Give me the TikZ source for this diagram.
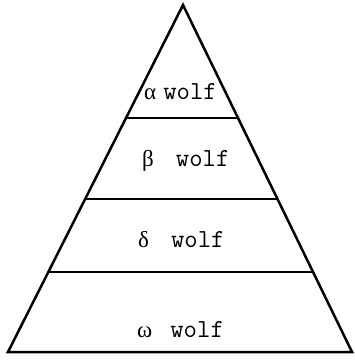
\documentclass[tikz,border=0pt]{standalone}
\usepackage{fontspec}
\newfontfamily\greekfont{Liberation Serif}
\usetikzlibrary{calc}
\tikzset{
    edge/.style={draw=black, line width=2.5pt, line join=miter},
    rank/.style={font=\ttfamily\fontsize{26}{30}\selectfont, inner sep=0pt, anchor=base west}
}
\newcommand{\gl}[1]{{\greekfont\fontsize{23}{27}\selectfont #1}}
\begin{document}
\begin{tikzpicture}[x=1pt, y=-1pt]
    \useasboundingbox (0,0) rectangle (355,361);
    \coordinate (top) at (183,5);
    \coordinate (bl) at (8,352);
    \coordinate (br) at (352,352);
    \draw[edge] (bl) -- (top) -- (br) -- cycle;
    % layer lines
    \foreach \y [count=\i] in {118,199,272}{
        \coordinate (l\i) at ($(bl)!{(352-\y)/347}!(top)$);
        \coordinate (r\i) at ($(br)!{(352-\y)/347}!(top)$);
        \draw[edge] (l\i) -- (r\i);
    }
    \node[rank] (alpha) at (144,99) {\gl{α}\hspace{7pt}wolf};
    \node[rank] (beta) at (142,166) {\gl{β}\hspace{22pt}wolf};
    \node[rank] (delta) at (138,247) {\gl{δ}\hspace{22pt}wolf};
    \node[rank] (omega) at (137,337) {\gl{ω}\hspace{18pt}wolf};
\end{tikzpicture}
\end{document}
